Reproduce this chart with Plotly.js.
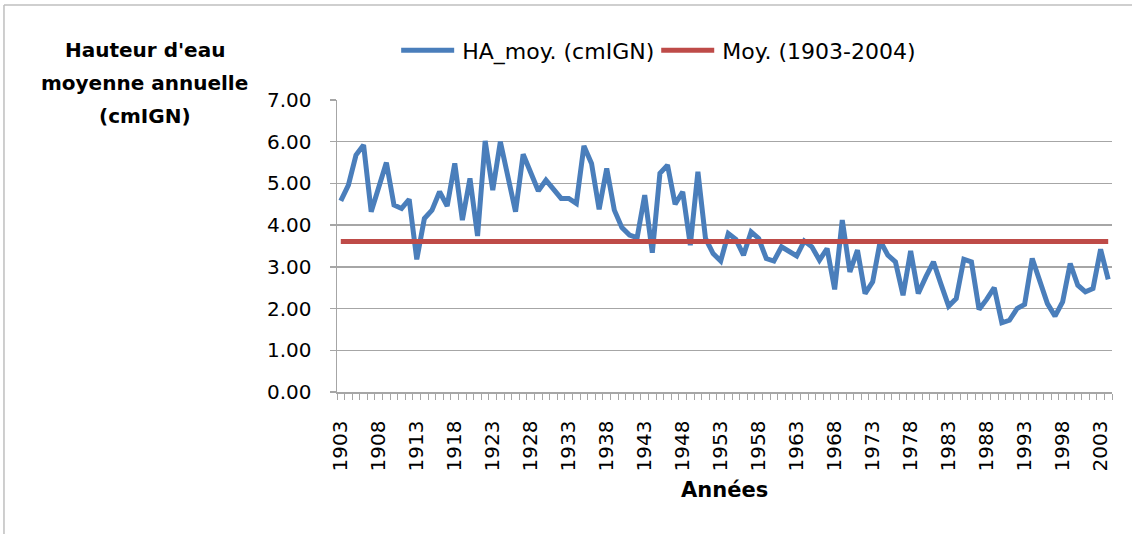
<!DOCTYPE html>
<html>
<head>
<meta charset="utf-8">
<script src="https://cdn.plot.ly/plotly-3.0.1.min.js"></script>
<style>
  html, body { margin: 0; padding: 0; background: #ffffff; }
  #chart { width: 1132px; height: 534px; }
</style>
</head>
<body>
<div id="chart"></div>
<script>
// Years (categories)
const years = [
  1903,1904,1905,1906,1907,1908,1909,1910,1911,1912,
  1913,1914,1915,1916,1917,1918,1919,1920,1921,1922,
  1923,1924,1925,1926,1927,1928,1929,1930,1931,1932,
  1933,1934,1935,1936,1937,1938,1939,1940,1941,1942,
  1943,1944,1945,1946,1947,1948,1949,1950,1951,1952,
  1953,1954,1955,1956,1957,1958,1959,1960,1961,1962,
  1963,1964,1965,1966,1967,1968,1969,1970,1971,1972,
  1973,1974,1975,1976,1977,1978,1979,1980,1981,1982,
  1983,1984,1985,1986,1987,1988,1989,1990,1991,1992,
  1993,1994,1995,1996,1997,1998,1999,2000,2001,2002,
  2003,2004
];

// HA_moy. (cmIGN) - annual mean water height
const haMoy = [
  4.58,4.96,5.68,5.92,4.32,4.88,5.50,4.48,4.40,4.62,
  3.18,4.16,4.36,4.80,4.46,5.48,4.12,5.12,3.74,6.02,
  4.84,6.00,5.16,4.32,5.70,5.24,4.82,5.08,4.88,4.64,
  4.64,4.52,5.90,5.48,4.38,5.36,4.36,3.94,3.76,3.70,
  4.72,3.34,5.24,5.44,4.50,4.80,3.52,5.28,3.68,3.32,
  3.14,3.80,3.66,3.28,3.84,3.68,3.20,3.14,3.48,3.36,
  3.26,3.62,3.48,3.16,3.44,2.46,4.12,2.88,3.40,2.36,
  2.64,3.62,3.28,3.12,2.32,3.38,2.36,2.76,3.12,2.58,
  2.06,2.24,3.18,3.12,1.98,2.22,2.50,1.66,1.72,2.00,
  2.10,3.20,2.64,2.12,1.82,2.16,3.08,2.56,2.40,2.48,
  3.42,2.70
];

// Moy. (1903-2004)
const meanValue = 3.61;
const meanSeries = years.map(() => meanValue);

// Tick labels (every 5 years)
const tickYears = [1903,1908,1913,1918,1923,1928,1933,1938,1943,1948,1953,1958,1963,1968,1973,1978,1983,1988,1993,1998,2003];
const yTicks = [0,1,2,3,4,5,6,7];
const yTickText = ['0.00','1.00','2.00','3.00','4.00','5.00','6.00','7.00'];

const FONT = 'DejaVu Sans, Liberation Sans, sans-serif';
const GRID = '#a6a6a6';

const traces = [
  {
    x: years, y: haMoy, type: 'scatter', mode: 'lines',
    name: 'HA_moy. (cmIGN)',
    line: { color: '#4a7ebb', width: 5 }
  },
  {
    x: years, y: meanSeries, type: 'scatter', mode: 'lines',
    name: 'Moy. (1903-2004)',
    line: { color: '#be4b48', width: 5 }
  }
];

const layout = {
  width: 1132, height: 534,
  margin: { l: 337, r: 20, t: 100, b: 142 },
  paper_bgcolor: '#ffffff', plot_bgcolor: '#ffffff',
  font: { family: FONT, size: 20, color: '#000000' },
  showlegend: true,
  legend: {
    orientation: 'h', x: 0.417, xanchor: 'center', y: 1.17, yanchor: 'middle',
    font: { family: FONT, size: 22, color: '#000000' },
    itemwidth: 53, tracegroupgap: 0
  },
  xaxis: {
    type: 'linear', range: [1902.5, 2004.5],
    tickmode: 'array', tickvals: tickYears, ticktext: tickYears.map(String),
    tickangle: -90, ticks: '', showgrid: false, zeroline: false,
    showline: true, linecolor: GRID, linewidth: 1.5,
    ticklabelstandoff: 19,
    tickfont: { family: FONT, size: 20, color: '#000000' },
    minor: { ticks: 'outside', ticklen: 6, tickcolor: GRID, tickwidth: 1, tick0: 1902.5, dtick: 1, showgrid: false },
    fixedrange: true
  },
  yaxis: {
    range: [0, 7], tickmode: 'array', tickvals: yTicks, ticktext: yTickText,
    showgrid: true, gridcolor: GRID, gridwidth: 1.5, zeroline: false,
    showline: true, linecolor: GRID, linewidth: 1.5,
    ticks: 'outside', ticklen: 6, tickcolor: GRID, tickwidth: 1.5,
    ticklabelstandoff: 14,
    tickfont: { family: FONT, size: 20, color: '#000000' },
    fixedrange: true
  },
  annotations: [
    {
      xref: 'paper', yref: 'paper', x: -0.248, y: (392 - 50) / 292, xanchor: 'center', yanchor: 'middle',
      text: "<b>Hauteur d'eau</b>", showarrow: false,
      font: { family: FONT, size: 20, color: '#000000' }
    },
    {
      xref: 'paper', yref: 'paper', x: -0.248, y: (392 - 83) / 292, xanchor: 'center', yanchor: 'middle',
      text: "<b>moyenne annuelle</b>", showarrow: false,
      font: { family: FONT, size: 20, color: '#000000' }
    },
    {
      xref: 'paper', yref: 'paper', x: -0.248, y: (392 - 116) / 292, xanchor: 'center', yanchor: 'middle',
      text: "<b>(cmIGN)</b>", showarrow: false,
      font: { family: FONT, size: 20, color: '#000000' }
    },
    {
      xref: 'paper', yref: 'paper', x: 0.5, y: -0.336, xanchor: 'center', yanchor: 'middle',
      text: '<b>Années</b>', showarrow: false,
      font: { family: FONT, size: 21, color: '#000000' }
    }
  ],
  shapes: [
    { type: 'line', xref: 'paper', yref: 'paper', x0: -0.4297, x1: 1.1, y0: 1.325, y1: 1.325,
      line: { color: '#bfbfbf', width: 1.5 } },
    { type: 'line', xref: 'paper', yref: 'paper', x0: -0.4297, x1: -0.4297, y0: 1.325, y1: -0.6,
      line: { color: '#bfbfbf', width: 1.5 } }
  ]
};

Plotly.newPlot('chart', traces, layout, { displayModeBar: false, staticPlot: true }).then(() => {
  // widen legend line symbols to match the reference
  document.querySelectorAll('#chart .legendlines path').forEach(p => p.setAttribute('d', 'M2,0h53'));
});
</script>
</body>
</html>
